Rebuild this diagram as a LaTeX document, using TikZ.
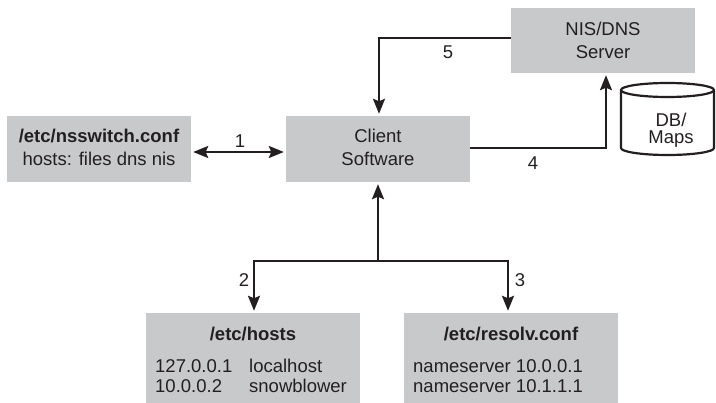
\documentclass[tikz,border=0pt]{standalone}
\usepackage{fontspec}
\setmainfont{Liberation Sans}
\usetikzlibrary{arrows.meta}
\definecolor{boxgray}{RGB}{200,201,203}
\definecolor{ink}{RGB}{35,31,32}
\begin{document}
\begin{tikzpicture}[x=1pt,y=-1pt,
  every node/.style={text=ink,font=\fontsize{18.5}{21}\selectfont},
  graybox/.style={fill=boxgray,draw=none,minimum width=#1,inner sep=0pt},
  tip/.style={},
  conn/.style={draw=ink,line width=2.2pt,-{Stealth[length=15pt,width=12pt,inset=2.5pt]},shorten >=2pt},
  biconn/.style={draw=ink,line width=2.2pt,{Stealth[length=15pt,width=12pt,inset=2.5pt]}-{Stealth[length=15pt,width=12pt,inset=2.5pt]},shorten >=2pt,shorten <=2pt},
  lbl/.style={inner sep=0pt},
  line/.style={inner sep=0pt,anchor=west}]
\useasboundingbox (0,0) rectangle (716,403);
% boxes
\node[graybox=184pt,minimum height=66pt] (ns) at (99,149) {};
\node[graybox=184pt,minimum height=66pt] (client) at (378,149) {};
\node[graybox=184pt,minimum height=65pt] (nis) at (603,40.5) {};
\node[graybox=214pt,minimum height=90pt] (hosts) at (253,358) {};
\node[graybox=214pt,minimum height=90pt] (resolv) at (511,358) {};
% box texts
\node[lbl] (nsA) at (99,136) {\bfseries /etc/nsswitch.conf};
\node[lbl] (nsB) at (99,159) {hosts: files dns nis};
\node[lbl] (clA) at (378,136) {Client};
\node[lbl] (clB) at (378,159) {Software};
\node[lbl] (nisA) at (603,29) {NIS/DNS};
\node[lbl] (nisB) at (603,52) {Server};
\node[lbl] (hT) at (253,334) {\bfseries /etc/hosts};
\node[line] (h1a) at (155,366) {127.0.0.1};
\node[line] (h1b) at (249,366) {localhost};
\node[line] (h2a) at (155,386) {10.0.0.2};
\node[line] (h2b) at (249,386) {snowblower};
\node[lbl] (rT) at (511,334) {\bfseries /etc/resolv.conf};
\node[line] (r1) at (413,366) {nameserver 10.0.0.1};
\node[line] (r2) at (413,386) {nameserver 10.1.1.1};
% cylinder
\draw[draw=ink,line width=2.2pt,fill=white]
  (621,90) -- (621,148) arc[start angle=180,end angle=0,x radius=46.5,y radius=7]
  -- (714,90) arc[start angle=0,end angle=-180,x radius=46.5,y radius=7] -- cycle;
\draw[draw=ink,line width=2.2pt] (621,90) arc[start angle=180,end angle=0,x radius=46.5,y radius=7];
\node[lbl] (dbA) at (671,120) {DB/};
\node[lbl] (dbB) at (671,139) {Maps};
% coordinates
\coordinate (j) at (378,261);
\coordinate (jl) at (254,261);
\coordinate (jr) at (508,261);
\coordinate (c5) at (379,38);
\coordinate (c4) at (606,148);
% connectors
\draw[biconn] (ns.east |- 0,152) -- (client.west |- 0,152);
\draw[conn] (j) -- (client.south);
\draw[conn] (j) -- (jl) -- (jl |- hosts.north);
\draw[conn] (j) -- (jr) -- (jr |- resolv.north);
\draw[conn] (nis.west |- c5) -- (c5) -- (c5 |- client.north);
\draw[conn] (client.east |- c4) -- (c4) -- (c4 |- nis.south);
% labels
\node[lbl] (l1) at (240,141) {1};
\node[lbl] (l2) at (244,280) {2};
\node[lbl] (l3) at (520,280) {3};
\node[lbl] (l4) at (533,163) {4};
\node[lbl] (l5) at (448,52) {5};
\end{tikzpicture}
\end{document}
